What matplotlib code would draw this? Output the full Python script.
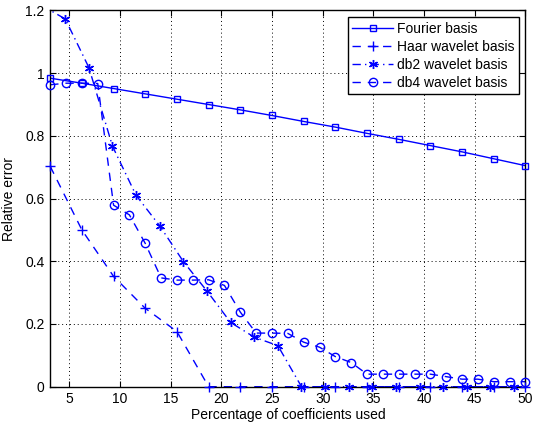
import numpy as np
import matplotlib
matplotlib.use("Agg")
import matplotlib.pyplot as plt
from matplotlib.lines import Line2D

plt.rcParams['font.family'] = ['Liberation Sans', 'DejaVu Sans']

# Fourier & Haar: every 3.125 %
x_fourier = [3.125, 6.25, 9.375, 12.5, 15.625, 18.75, 21.875, 25.0, 28.125, 31.25,
             34.375, 37.5, 40.625, 43.75, 46.875, 50.0]
y_fourier = [0.984, 0.968, 0.951, 0.934, 0.917, 0.900, 0.883, 0.865, 0.846, 0.828,
             0.808, 0.789, 0.769, 0.749, 0.727, 0.705]

x_haar = x_fourier
y_haar = [0.703, 0.500, 0.352, 0.250, 0.176, 0.0, 0.0, 0.0, 0.0, 0.0,
          0.0, 0.0, 0.0, 0.0, 0.0, 0.0]

x_db2 = [2.28, 4.61, 6.94, 9.27, 11.60, 13.93, 16.26, 18.59, 20.92, 23.25, 25.58,
         27.91, 30.24, 32.57, 34.90, 37.23, 39.56, 41.89, 44.22, 46.55, 48.88]
y_db2 = [1.216, 1.173, 1.018, 0.767, 0.610, 0.513, 0.399, 0.305, 0.205, 0.158, 0.131,
         0.0, 0.0, 0.0, 0.0, 0.0, 0.0, 0.0, 0.0, 0.0, 0.0]

x_db4 = [3.125, 4.6875, 6.25, 7.8125, 9.375, 10.9375, 12.5, 14.0625, 15.625, 17.1875,
         18.75, 20.3125, 21.875, 23.4375, 25.0, 26.5625, 28.125, 29.6875, 31.25, 32.8125,
         34.375, 35.9375, 37.5, 39.0625, 40.625, 42.1875, 43.75, 45.3125, 46.875, 48.4375, 50.0]
y_db4 = [0.963, 0.968, 0.968, 0.967, 0.579, 0.548, 0.457, 0.347, 0.340, 0.340,
         0.341, 0.323, 0.238, 0.171, 0.171, 0.170, 0.142, 0.126, 0.096, 0.077,
         0.040, 0.040, 0.040, 0.040, 0.040, 0.032, 0.024, 0.024, 0.016, 0.016, 0.016]

labels = ["Fourier basis", "Haar wavelet basis", "db2 wavelet basis", "db4 wavelet basis"]
x_ticks = [5, 10, 15, 20, 25, 30, 35, 40, 45, 50]
y_ticks = [0, 0.2, 0.4, 0.6, 0.8, 1.0, 1.2]
y_ticklabels = ["0", "0.2", "0.4", "0.6", "0.8", "1", "1.2"]

FS = 10
fig = plt.figure(figsize=(5.34, 4.29), dpi=100)
ax = fig.add_axes([0.094, 0.0986, 0.89, 0.877])
ax.set_xlim(3.125, 50)
ax.set_ylim(0, 1.2)

blue = (0, 0, 1)
lw = 1.0
dash = (0, (6, 5))
dashdot = (0, (6, 3, 1, 3))
styles = [
    dict(ls='-', marker='s', ms=5, mfc='none'),
    dict(ls=dash, marker='+', ms=7, mfc=blue),
    dict(ls=dashdot, marker=(6, 2, 0), ms=6.5, mfc=blue),
    dict(ls=dash, marker='o', ms=6, mfc='none'),
]
series = [(x_fourier, y_fourier), (x_haar, y_haar), (x_db2, y_db2), (x_db4, y_db4)]

handles = []
for (xs, ys), st, lab in zip(series, styles, labels):
    # line (clipped to the axes)
    ax.plot(xs, ys, color=blue, lw=lw, ls=st['ls'])
    # markers (not clipped, only those within the data limits)
    xm = [x for x, y in zip(xs, ys) if 3.1 <= x <= 50.01 and 0 <= y <= 1.2]
    ym = [y for x, y in zip(xs, ys) if 3.1 <= x <= 50.01 and 0 <= y <= 1.2]
    ax.plot(xm, ym, ls='none', marker=st['marker'], ms=st['ms'], mfc=st['mfc'],
            mec=blue, mew=1.0, clip_on=False, zorder=3)
    handles.append(Line2D([], [], color=blue, lw=lw, ls=st['ls'], marker=st['marker'],
                          ms=st['ms'], mfc=st['mfc'], mec=blue, mew=1.0, label=lab))

ax.set_xticks(x_ticks)
ax.set_xticklabels([str(t) for t in x_ticks])
ax.set_yticks(y_ticks)
ax.set_yticklabels(y_ticklabels)
ax.tick_params(direction='in', length=4.5, width=0.8, top=True, right=True,
               labelsize=FS, colors='black', pad=4)
for s in ax.spines.values():
    s.set_linewidth(1.0)
    s.set_color('black')
    s.set_zorder(2.5)
ax.grid(True, ls=(0, (1, 3)), color='black', lw=0.7)
ax.set_axisbelow(True)

ax.set_xlabel("Percentage of coefficients used", fontsize=FS, labelpad=1)
ax.set_ylabel("Relative error", fontsize=FS, labelpad=7)

leg = ax.legend(handles=handles, loc='upper right', fontsize=FS, frameon=True,
                fancybox=False, edgecolor='black', framealpha=1, borderaxespad=0.5,
                handlelength=2.9, labelspacing=0.3, borderpad=0.3, handletextpad=0.3)
leg.get_frame().set_linewidth(1.0)
leg.set_zorder(5)

fig.savefig("out.png", dpi=100)
